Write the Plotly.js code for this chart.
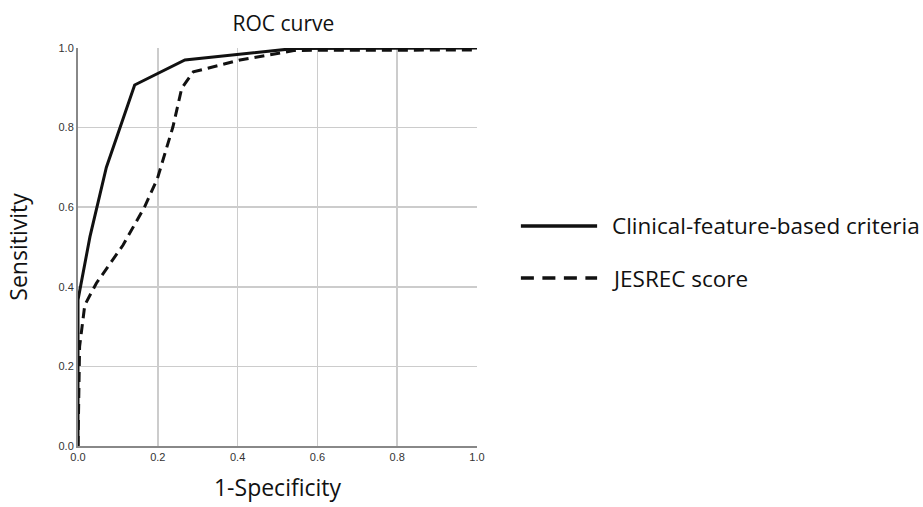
<!DOCTYPE html>
<html>
<head>
<meta charset="utf-8">
<script src="https://cdn.plot.ly/plotly-3.0.1.min.js"></script>
<style>html,body{margin:0;padding:0;background:#fff;}#chart{width:923px;height:507px;}</style>
</head>
<body>
<div id="chart"></div>
<script>
const clinicalFPR = [0, 0, 0.03, 0.071, 0.142, 0.268, 0.544, 1.0];
const clinicalTPR = [0, 0.367, 0.526, 0.70, 0.907, 0.970, 0.999, 1.0];
const jesrecFPR = [0, 0.004, 0.017, 0.046, 0.113, 0.167, 0.199, 0.238, 0.26, 0.289, 0.406, 0.544, 1.0];
const jesrecTPR = [0, 0.25, 0.354, 0.409, 0.505, 0.601, 0.672, 0.802, 0.899, 0.940, 0.970, 0.994, 0.995];
const tickVals = [0, 0.2, 0.4, 0.6, 0.8, 1.0];
const tickText = ["0.0", "0.2", "0.4", "0.6", "0.8", "1.0"];
const seriesNames = ["Clinical-feature-based criteria", "JESREC score"];

const seriesStyles = [
  {color: '#111', width: 3},
  {color: '#111', width: 3, dash: '10px,6px'}
];
const legendStyles = [
  {color: '#111', width: 3.5},
  {color: '#111', width: 3.5, dash: '13px,8.5px'}
];
const traces = [
  {x: clinicalFPR, y: clinicalTPR, mode: 'lines', name: seriesNames[0], line: seriesStyles[0]},
  {x: jesrecFPR, y: jesrecTPR, mode: 'lines', name: seriesNames[1], line: seriesStyles[1]}
];
const bigFont = {family: 'Open Sans, Noto Sans, sans-serif', size: 22.5, color: '#111'};
const tfont = {family: 'Liberation Sans, Arial, sans-serif', size: 11, color: '#333'};

// manual legend (outside the plot area, paper coords)
const legendRowsY = [0.553, 0.422];
const shapes = seriesNames.map((n, i) => ({
  type: 'line', xref: 'paper', yref: 'paper',
  x0: 1.110, x1: 1.301, y0: legendRowsY[i], y1: legendRowsY[i],
  line: legendStyles[i]
}));
const annotations = seriesNames.map((n, i) => ({
  text: n, xref: 'paper', yref: 'paper', x: 1.334, y: legendRowsY[i],
  xanchor: 'left', yanchor: 'middle', showarrow: false, font: bigFont
}));

const layout = {
  width: 923, height: 507,
  margin: {l: 78, r: 446, t: 48, b: 61},
  paper_bgcolor: '#fff', plot_bgcolor: '#fff',
  title: {text: 'ROC curve', x: 0.307, xanchor: 'center', y: 0.953, yanchor: 'middle',
          font: {family: 'Open Sans, Noto Sans, sans-serif', size: 21, color: '#111'}},
  xaxis: {range: [0, 1], tickvals: tickVals, ticktext: tickText, showgrid: true,
          gridcolor: '#cccccc', gridwidth: 1.5, zeroline: false, showline: true,
          linecolor: '#888', linewidth: 2, ticks: '', tickfont: tfont, fixedrange: true,
          title: {text: '1-Specificity', standoff: 18,
                  font: {family: 'Open Sans, Noto Sans, sans-serif', size: 23, color: '#111'}}},
  yaxis: {range: [0, 1], tickvals: tickVals, ticktext: tickText, showgrid: true,
          gridcolor: '#cccccc', gridwidth: 1.5, zeroline: false, showline: true,
          linecolor: '#888', linewidth: 2, ticks: '', tickfont: tfont, fixedrange: true,
          title: {text: 'Sensitivity', standoff: 24,
                  font: {family: 'Open Sans, Noto Sans, sans-serif', size: 23, color: '#111'}}},
  showlegend: false,
  shapes: shapes,
  annotations: annotations
};
Plotly.newPlot('chart', traces, layout, {displayModeBar: false, staticPlot: true});
</script>
</body>
</html>
